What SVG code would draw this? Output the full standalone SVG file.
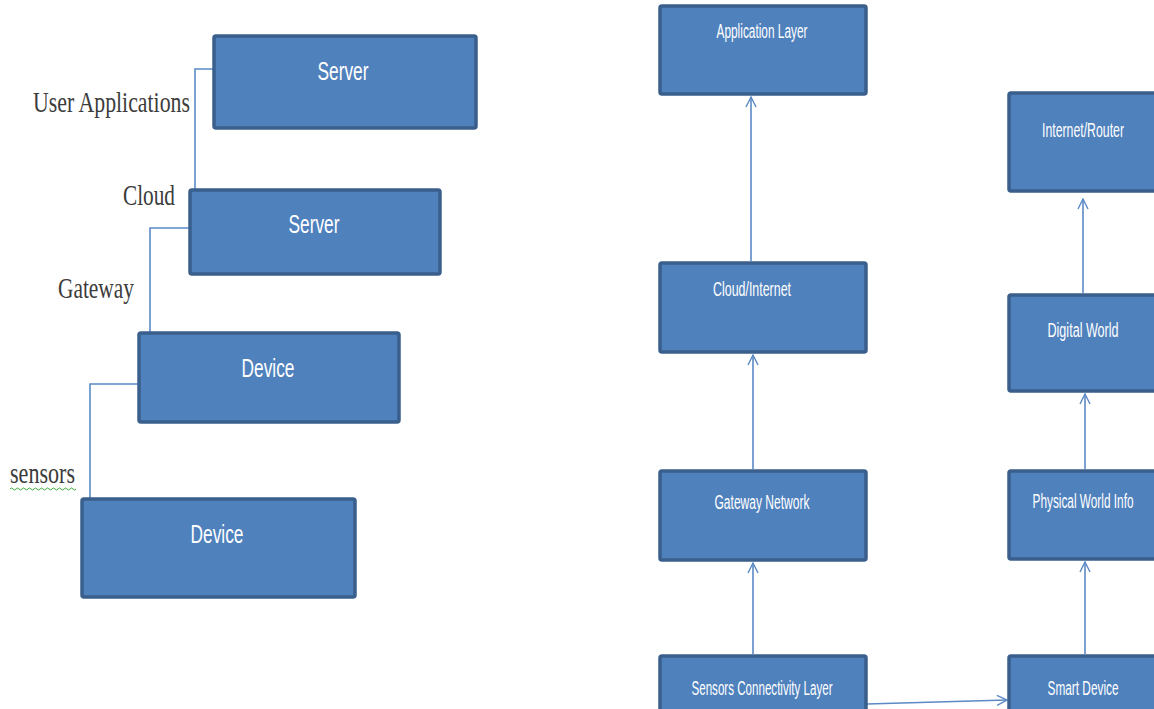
<svg xmlns="http://www.w3.org/2000/svg" width="1154" height="709" viewBox="0 0 1154 709">
<style>
.box{fill:#4F81BD;stroke:#3A5F8C;stroke-width:3.5}
.bt{fill:#FFFFFF;font-family:"Liberation Sans Narrow","Liberation Sans",sans-serif;text-anchor:middle}
.big{font-size:25px}
.sm{font-size:20px}
.lbl{fill:#3C3C3C;font-family:"Liberation Serif",serif;font-size:30px}
.con{fill:none;stroke:#5B8AC6;stroke-width:1.6}
</style>
<defs>
<marker id="ah" viewBox="0 0 12 12" refX="11" refY="6" markerWidth="12" markerHeight="12" markerUnits="userSpaceOnUse" orient="auto">
<path d="M1,1 L11,6 L1,11" fill="none" stroke="#5B8AC6" stroke-width="1.4"/>
</marker>
</defs>
<rect width="1154" height="709" fill="#FFFFFF"/>
<g id="connectors">
<path class="con" d="M213,69 H195 V191 H202"/>
<path class="con" d="M189,228 H150 V333 H167"/>
<path class="con" d="M138,384 H90 V499 H115"/>
<line class="con" x1="751" y1="261" x2="751" y2="97" marker-end="url(#ah)"/>
<line class="con" x1="753" y1="469" x2="753" y2="355" marker-end="url(#ah)"/>
<line class="con" x1="753" y1="654" x2="753" y2="563" marker-end="url(#ah)"/>
<line class="con" x1="1083" y1="293" x2="1083" y2="199" marker-end="url(#ah)"/>
<line class="con" x1="1085" y1="469" x2="1085" y2="394" marker-end="url(#ah)"/>
<line class="con" x1="1085" y1="654" x2="1085" y2="562" marker-end="url(#ah)"/>
<line class="con" x1="867" y1="704" x2="1007" y2="700" marker-end="url(#ah)"/>
</g>
<g id="lbl-user-applications"><text class="lbl" x="33" y="112" textLength="157" lengthAdjust="spacingAndGlyphs">User Applications</text></g>
<g id="lbl-cloud"><text class="lbl" x="123" y="205" textLength="52" lengthAdjust="spacingAndGlyphs">Cloud</text></g>
<g id="lbl-gateway"><text class="lbl" x="58" y="298" textLength="76" lengthAdjust="spacingAndGlyphs">Gateway</text></g>
<g id="lbl-sensors"><text class="lbl" x="10" y="483" textLength="65" lengthAdjust="spacingAndGlyphs">sensors</text>
<path d="M10,489 q1.5,-2 3,0 t3,0 t3,0 t3,0 t3,0 t3,0 t3,0 t3,0 t3,0 t3,0 t3,0 t3,0 t3,0 t3,0 t3,0 t3,0 t3,0 t3,0 t3,0 t3,0 t3,0 t3,0" fill="none" stroke="#3DAA3D" stroke-width="1"/></g>
<g id="server1"><rect class="box" x="214" y="36" width="262" height="92" rx="2"/><text class="bt big" x="343" y="80" textLength="51" lengthAdjust="spacingAndGlyphs">Server</text></g>
<g id="server2"><rect class="box" x="190" y="190" width="250" height="84" rx="2"/><text class="bt big" x="314" y="233" textLength="51" lengthAdjust="spacingAndGlyphs">Server</text></g>
<g id="device1"><rect class="box" x="139" y="333" width="260" height="89" rx="2"/><text class="bt big" x="268" y="377" textLength="53" lengthAdjust="spacingAndGlyphs">Device</text></g>
<g id="device2"><rect class="box" x="82" y="499" width="273" height="98" rx="2"/><text class="bt big" x="217" y="543" textLength="53" lengthAdjust="spacingAndGlyphs">Device</text></g>
<g id="application-layer"><rect class="box" x="660" y="6" width="206" height="88" rx="2"/><text class="bt sm" x="762" y="38" textLength="91" lengthAdjust="spacingAndGlyphs">Application Layer</text></g>
<g id="cloud-internet"><rect class="box" x="660" y="263" width="206" height="89" rx="2"/><text class="bt sm" x="752" y="296" textLength="78" lengthAdjust="spacingAndGlyphs">Cloud/Internet</text></g>
<g id="gateway-network"><rect class="box" x="660" y="471" width="206" height="89" rx="2"/><text class="bt sm" x="762" y="509" textLength="95" lengthAdjust="spacingAndGlyphs">Gateway Network</text></g>
<g id="sensors-connectivity-layer"><rect class="box" x="660" y="656" width="206" height="70" rx="2"/><text class="bt sm" x="762" y="695" textLength="141" lengthAdjust="spacingAndGlyphs">Sensors Connectivity Layer</text></g>
<g id="internet-router"><rect class="box" x="1009" y="93" width="160" height="98" rx="2"/><text class="bt sm" x="1083" y="137" textLength="82" lengthAdjust="spacingAndGlyphs">Internet/Router</text></g>
<g id="digital-world"><rect class="box" x="1009" y="295" width="160" height="96" rx="2"/><text class="bt sm" x="1083" y="337" textLength="71" lengthAdjust="spacingAndGlyphs">Digital World</text></g>
<g id="physical-world-info"><rect class="box" x="1009" y="471" width="160" height="88" rx="2"/><text class="bt sm" x="1083" y="508" textLength="101" lengthAdjust="spacingAndGlyphs">Physical World Info</text></g>
<g id="smart-device"><rect class="box" x="1009" y="656" width="160" height="70" rx="2"/><text class="bt sm" x="1083" y="695" textLength="71" lengthAdjust="spacingAndGlyphs">Smart Device</text></g>
</svg>
